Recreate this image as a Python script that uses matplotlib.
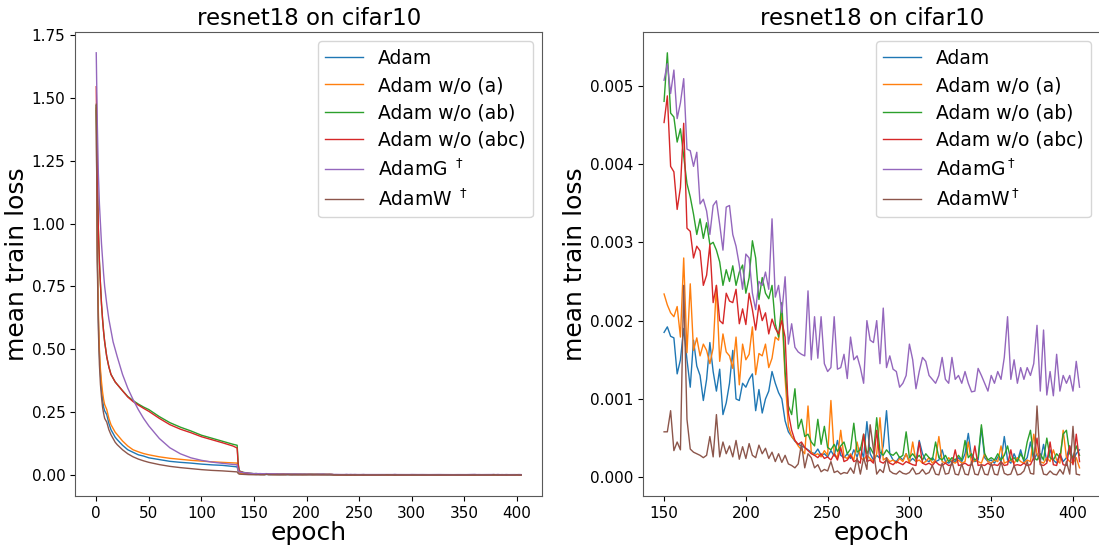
import numpy as np
import matplotlib
matplotlib.use("Agg")
import matplotlib.pyplot as plt

# ---------------- data ----------------
labels_left = ['Adam', 'Adam w/o (a)', 'Adam w/o (ab)', 'Adam w/o (abc)',
               'AdamG $^\\dagger$', 'AdamW $^\\dagger$']
labels_right = ['Adam', 'Adam w/o (a)', 'Adam w/o (ab)', 'Adam w/o (abc)',
                'AdamG$^\\dagger$', 'AdamW$^\\dagger$']
colors = ['#1f77b4', '#ff7f0e', '#2ca02c', '#d62728', '#9467bd', '#8c564b']

# early epochs (sparse readings), loss values
head_epochs = [0, 1, 2, 3, 4, 5, 6, 7, 8, 10, 12, 14, 16, 18, 20, 25, 30, 35, 40, 45,
               50, 60, 70, 80, 90, 100, 110, 120, 130, 134, 135, 136, 140, 145]
adam_head = [1.45, 0.88, 0.62, 0.48, 0.40, 0.34, 0.30, 0.27, 0.255, 0.24, 0.205, 0.18, 0.165, 0.15,
             0.14, 0.118, 0.10, 0.09, 0.08, 0.075, 0.068, 0.061, 0.054, 0.05, 0.047, 0.043, 0.04,
             0.038, 0.034, 0.032, 0.015, 0.008, 0.004, 0.003]
adam_a_head = [1.46, 0.90, 0.65, 0.50, 0.42, 0.37, 0.33, 0.30, 0.28, 0.26, 0.225, 0.20, 0.185, 0.17,
               0.16, 0.135, 0.115, 0.10, 0.092, 0.085, 0.08, 0.072, 0.066, 0.062, 0.058, 0.055,
               0.052, 0.05, 0.048, 0.047, 0.02, 0.008, 0.004, 0.003]
adam_ab_head = [1.47, 1.20, 0.98, 0.85, 0.76, 0.68, 0.62, 0.57, 0.53, 0.47, 0.43, 0.40, 0.385, 0.37,
                0.36, 0.335, 0.312, 0.296, 0.282, 0.27, 0.26, 0.232, 0.208, 0.19, 0.175, 0.158,
                0.146, 0.134, 0.122, 0.118, 0.045, 0.016, 0.01, 0.007]
adam_abc_head = [1.545, 1.20, 0.98, 0.85, 0.76, 0.68, 0.62, 0.57, 0.53, 0.47, 0.43, 0.40, 0.385, 0.37,
                 0.36, 0.335, 0.31, 0.292, 0.278, 0.265, 0.253, 0.225, 0.20, 0.182, 0.168, 0.152,
                 0.14, 0.128, 0.115, 0.107, 0.04, 0.015, 0.009, 0.006]
adamg_head = [1.68, 1.40, 1.20, 1.08, 1.00, 0.92, 0.86, 0.80, 0.75, 0.68, 0.62, 0.575, 0.53, 0.50,
              0.47, 0.40, 0.345, 0.30, 0.26, 0.225, 0.195, 0.145, 0.108, 0.084, 0.068, 0.058, 0.051,
              0.046, 0.042, 0.04, 0.02, 0.012, 0.009, 0.007]
adamw_head = [1.475, 0.85, 0.58, 0.44, 0.36, 0.31, 0.27, 0.245, 0.225, 0.21, 0.18, 0.16, 0.145, 0.13,
              0.12, 0.10, 0.084, 0.072, 0.063, 0.056, 0.05, 0.041, 0.034, 0.029, 0.025, 0.021,
              0.018, 0.016, 0.013, 0.012, 0.006, 0.003, 0.002, 0.001]

# epochs 150..404 every 2 epochs, values in units of 1e-3
tail_epochs = list(range(150, 405, 2))
adam_tail = [
    1.85, 1.92, 1.80, 1.78, 1.32, 1.50, 1.90, 1.50, 1.15, 1.75,
    1.42, 1.30, 0.98, 1.25, 1.72, 1.35, 1.10, 1.38, 0.80, 0.95,
    1.20, 1.62, 1.00, 0.98, 1.20, 1.15, 1.25, 1.32, 0.85, 1.12,
    0.82, 1.00, 1.10, 1.35, 1.20, 1.08, 1.00, 0.72, 0.58, 0.52,
    0.46, 0.42, 0.40, 0.38, 0.35, 0.32, 0.30, 0.36, 0.28, 0.30,
    0.26, 0.34, 0.27, 0.47, 0.28, 0.25, 0.30, 0.24, 0.35, 0.26,
    0.38, 0.25, 0.71, 0.30, 0.22, 0.28, 0.24, 0.40, 0.85, 0.30,
    0.22, 0.20, 0.26, 0.22, 0.30, 0.20, 0.24, 0.20, 0.47, 0.30,
    0.22, 0.20, 0.25, 0.20, 0.22, 0.35, 0.20, 0.18, 0.22, 0.20,
    0.25, 0.20, 0.30, 0.56, 0.25, 0.20, 0.22, 0.63, 0.25, 0.20,
    0.22, 0.18, 0.26, 0.20, 0.52, 0.22, 0.18, 0.30, 0.20, 0.35,
    0.20, 0.25, 0.45, 0.22, 0.30, 0.20, 0.42, 0.20, 0.35, 0.22,
    0.18, 0.30, 0.20, 0.25, 0.40, 0.22, 0.30, 0.35]
adam_a_tail = [
    2.34, 2.20, 2.10, 2.05, 2.18, 1.79, 2.80, 1.59, 2.47, 1.62,
    1.78, 1.55, 1.70, 1.62, 1.45, 1.65, 2.45, 1.48, 1.83, 1.60,
    1.55, 1.39, 1.79, 1.18, 1.70, 1.50, 1.57, 1.92, 1.31, 1.58,
    1.55, 1.70, 1.40, 1.52, 1.79, 1.75, 2.12, 1.26, 0.65, 0.52,
    0.47, 0.40, 0.35, 0.30, 0.91, 0.32, 0.28, 0.30, 0.26, 0.34,
    0.28, 0.98, 0.30, 0.25, 0.60, 0.26, 0.24, 0.30, 0.22, 0.45,
    0.25, 0.22, 0.28, 0.24, 0.20, 0.30, 0.76, 0.22, 0.25, 0.20,
    0.22, 0.18, 0.24, 0.20, 0.30, 0.18, 0.45, 0.20, 0.22, 0.18,
    0.20, 0.25, 0.18, 0.22, 0.52, 0.20, 0.18, 0.25, 0.20, 0.18,
    0.22, 0.18, 0.20, 0.45, 0.18, 0.22, 0.20, 0.18, 0.30, 0.20,
    0.18, 0.22, 0.20, 0.40, 0.18, 0.20, 0.22, 0.18, 0.25, 0.20,
    0.18, 0.22, 0.20, 0.55, 0.30, 0.20, 0.18, 0.25, 0.20, 0.35,
    0.22, 0.18, 0.60, 0.25, 0.20, 0.18, 0.25, 0.12]
adam_ab_tail = [
    4.80, 5.42, 4.65, 4.60, 4.28, 4.45, 4.10, 3.75, 3.58, 3.36,
    3.10, 3.30, 3.05, 3.25, 2.97, 3.00, 2.90, 2.75, 2.45, 2.65,
    2.50, 2.70, 2.45, 2.62, 2.71, 2.35, 2.55, 3.02, 2.80, 2.27,
    2.55, 2.35, 2.28, 2.45, 1.96, 1.79, 2.23, 1.35, 0.91, 0.80,
    1.13, 0.62, 0.74, 0.52, 0.55, 0.45, 0.40, 0.74, 0.42, 0.65,
    0.38, 0.35, 0.42, 0.33, 0.40, 0.45, 0.30, 0.36, 0.69, 0.32,
    0.35, 0.55, 0.30, 0.38, 0.30, 0.76, 0.32, 0.28, 0.35, 0.30,
    0.28, 0.32, 0.25, 0.28, 0.58, 0.25, 0.30, 0.24, 0.28, 0.22,
    0.30, 0.25, 0.22, 0.45, 0.25, 0.22, 0.28, 0.20, 0.25, 0.22,
    0.28, 0.22, 0.47, 0.25, 0.30, 0.22, 0.25, 0.67, 0.30, 0.22,
    0.25, 0.22, 0.30, 0.22, 0.28, 0.40, 0.22, 0.25, 0.20, 0.30,
    0.22, 0.45, 0.60, 0.25, 0.22, 0.30, 0.22, 0.50, 0.25, 0.22,
    0.30, 0.25, 0.55, 0.60, 0.30, 0.25, 0.40, 0.28]
adam_abc_tail = [
    4.53, 4.87, 3.97, 3.90, 3.42, 3.70, 4.52, 3.18, 3.14, 2.80,
    2.95, 2.89, 2.45, 2.58, 2.97, 2.23, 2.45, 2.00, 1.96, 2.35,
    2.25, 2.23, 2.40, 1.96, 2.15, 1.95, 2.35, 2.14, 1.88, 2.20,
    2.00, 2.10, 1.83, 2.02, 1.90, 1.83, 2.00, 1.79, 0.82, 0.60,
    0.47, 0.42, 0.45, 0.38, 0.34, 0.30, 0.28, 0.25, 0.30, 0.24,
    0.26, 0.22, 0.30, 0.22, 0.38, 0.20, 0.22, 0.28, 0.20, 0.22,
    0.18, 0.55, 0.20, 0.22, 0.18, 0.60, 0.20, 0.18, 0.22, 0.18,
    0.16, 0.20, 0.18, 0.16, 0.20, 0.18, 0.16, 0.15, 0.45, 0.18,
    0.16, 0.18, 0.15, 0.20, 0.16, 0.15, 0.18, 0.15, 0.16, 0.35,
    0.15, 0.16, 0.18, 0.15, 0.16, 0.40, 0.15, 0.16, 0.15, 0.18,
    0.15, 0.16, 0.15, 0.20, 0.15, 0.16, 0.35, 0.15, 0.16, 0.15,
    0.18, 0.15, 0.16, 0.25, 0.50, 0.16, 0.15, 0.18, 0.45, 0.16,
    0.15, 0.30, 0.16, 0.15, 0.40, 0.16, 0.55, 0.20]
adamg_tail = [
    5.07, 5.28, 4.90, 5.20, 4.58, 4.78, 5.09, 4.19, 4.17, 3.97,
    4.15, 3.49, 3.55, 3.40, 3.10, 3.47, 3.53, 3.23, 2.90, 3.45,
    3.47, 3.10, 2.95, 2.71, 2.40, 2.85, 2.80, 2.35, 2.14, 2.50,
    2.45, 2.62, 2.40, 3.30, 2.30, 2.45, 2.10, 2.56, 1.70, 1.96,
    1.66, 1.60, 1.57, 1.55, 2.38, 1.50, 2.05, 1.52, 2.05, 1.45,
    1.35, 1.40, 2.05, 1.38, 1.40, 1.57, 1.26, 1.79, 1.50, 1.55,
    1.40, 1.20, 2.00, 1.75, 1.72, 2.00, 1.45, 2.16, 1.40, 1.55,
    1.38, 1.35, 1.15, 1.20, 1.30, 1.70, 1.50, 1.13, 1.35, 1.53,
    1.48, 1.30, 1.25, 1.20, 1.30, 1.53, 1.25, 1.20, 1.53, 1.25,
    1.30, 1.20, 1.35, 1.20, 1.09, 1.10, 1.39, 1.30, 1.20, 1.10,
    1.30, 1.20, 1.35, 1.25, 1.53, 2.05, 1.25, 1.50, 1.20, 1.40,
    1.25, 1.40, 1.30, 1.45, 1.94, 1.10, 1.88, 1.05, 1.35, 1.04,
    1.57, 1.10, 1.30, 1.20, 1.30, 1.10, 1.48, 1.15]
adamw_tail = [
    0.58, 0.58, 0.85, 0.34, 0.45, 0.35, 2.45, 0.74, 0.36, 0.32,
    0.30, 0.28, 0.25, 0.28, 0.52, 0.26, 0.80, 0.26, 0.45, 0.30,
    0.40, 0.26, 0.47, 0.23, 0.39, 0.24, 0.43, 0.28, 0.25, 0.41,
    0.30, 0.37, 0.24, 0.32, 0.20, 0.30, 0.19, 0.28, 0.17, 0.15,
    0.12, 0.17, 0.43, 0.12, 0.30, 0.25, 0.12, 0.16, 0.07, 0.10,
    0.08, 0.20, 0.06, 0.08, 0.04, 0.06, 0.05, 0.12, 0.05, 0.25,
    0.04, 0.25, 0.10, 0.67, 0.35, 0.04, 0.10, 0.06, 0.25, 0.08,
    0.05, 0.04, 0.08, 0.05, 0.04, 0.06, 0.12, 0.04, 0.05, 0.10,
    0.04, 0.06, 0.15, 0.04, 0.03, 0.18, 0.04, 0.05, 0.20, 0.04,
    0.03, 0.17, 0.04, 0.03, 0.20, 0.04, 0.03, 0.16, 0.04, 0.03,
    0.18, 0.04, 0.03, 0.20, 0.05, 0.03, 0.04, 0.15, 0.03, 0.04,
    0.08, 0.20, 0.05, 0.04, 0.91, 0.20, 0.04, 0.03, 0.08, 0.04,
    0.03, 0.10, 0.04, 0.20, 0.04, 0.65, 0.04, 0.03]

heads = [adam_head, adam_a_head, adam_ab_head, adam_abc_head, adamg_head, adamw_head]
tails = [adam_tail, adam_a_tail, adam_ab_tail, adam_abc_tail, adamg_tail, adamw_tail]

title = 'resnet18 on cifar10'
xlabel = 'epoch'
ylabel = 'mean train loss'

# ---------------- plot ----------------
W, H = 1099, 545
fig = plt.figure(figsize=(W / 100, H / 100), dpi=100)
ax1 = fig.add_axes([75 / W, 49 / H, 467.3 / W, 464.3 / H])
ax2 = fig.add_axes([643.3 / W, 49 / H, 457 / W, 464.3 / H])

tail_x = np.array(tail_epochs)
for head, tail, lab, c in zip(heads, tails, labels_left, colors):
    x = np.concatenate([head_epochs, tail_x])
    y = np.concatenate([head, np.array(tail) * 1e-3])
    ax1.plot(x, y, color=c, lw=1.0, label=lab)

for tail, lab, c in zip(tails, labels_right, colors):
    ax2.plot(tail_x, np.array(tail) * 1e-3, color=c, lw=1.0, label=lab)

for ax in (ax1, ax2):
    ax.set_title(title, fontsize=16.5, pad=5)
    ax.set_xlabel(xlabel, fontsize=18, labelpad=0)
    ax.set_ylabel(ylabel, fontsize=18, labelpad=2)
    ax.tick_params(labelsize=11)
    for s in ax.spines.values():
        s.set_color('0.35')
    ax.legend(fontsize=13.5, loc='upper right', labelspacing=0.45)

ax2.set_xticks([150, 200, 250, 300, 350, 400])

fig.savefig('out.png', dpi=100)
